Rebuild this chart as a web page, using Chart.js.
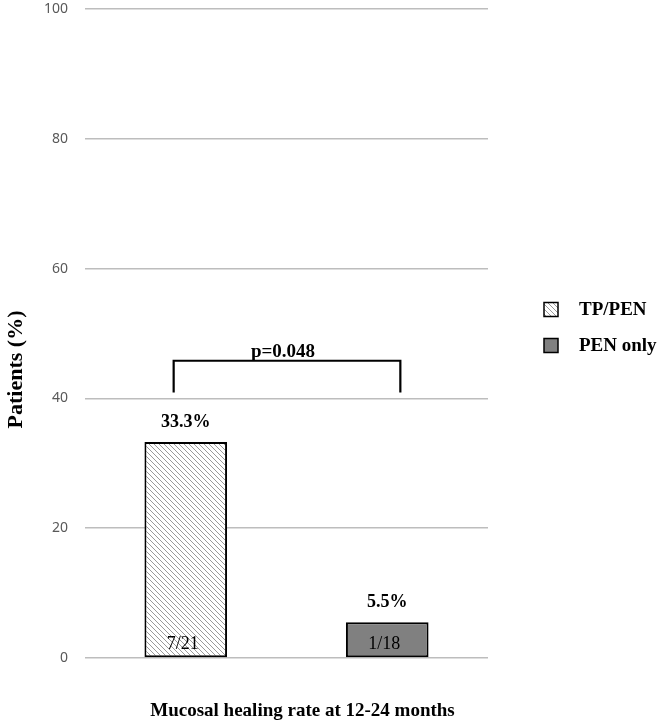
<!DOCTYPE html>
<html><head><meta charset="utf-8">
<script src="https://cdn.jsdelivr.net/npm/chart.js@4/dist/chart.umd.min.js"></script>
<style>html,body{margin:0;padding:0;background:#fff}#wrap{width:661px;height:725px;position:relative}</style>
</head><body><div id="wrap"><canvas id="c"></canvas></div>
<script>
const categories = ['TP/PEN', 'PEN only'];
const healingRate = [33.3, 5.5];
const valueLabels = ['33.3%', '5.5%'];
const countLabels = ['7/21', '1/18'];
const yTickValues = [0, 20, 40, 60, 80, 100];
const pValueLabel = 'p=0.048';
const yAxisTitle = 'Patients (%)';
const xAxisTitle = 'Mucosal healing rate at 12-24 months';

const SERIF = '"Liberation Serif","Times New Roman","DejaVu Serif",serif';

function makeHatch() {
  const s = 5;
  const c = document.createElement('canvas');
  c.width = s; c.height = s;
  const g = c.getContext('2d');
  g.fillStyle = '#ffffff'; g.fillRect(0, 0, s, s);
  g.strokeStyle = '#999999'; g.lineWidth = 1.0;
  g.beginPath();
  for (const k of [-s, 0, s]) { g.moveTo(k - 1, -1); g.lineTo(k + s + 1, s + 1); }
  g.stroke();
  return document.getElementById('c').getContext('2d').createPattern(c, 'repeat');
}
const hatchFill = makeHatch();
const fills = [hatchFill, '#808080'];

const datasets = categories.map((name, k) => ({
  label: name,
  data: categories.map((_, i) => (i === k ? healingRate[k] : null)),
  backgroundColor: fills[k],
  borderColor: '#000',
  borderWidth: 2,
  borderSkipped: false,
  grouped: false,
  barPercentage: 0.41,
  categoryPercentage: 1.0
}));

const annotate = {
  id: 'annotate',
  afterDatasetsDraw(chart) {
    const ctx = chart.ctx, ca = chart.chartArea;
    const xs = chart.scales.x, ys = chart.scales.y;
    ctx.save();
    categories.forEach((_, k) => {
      const bar = chart.getDatasetMeta(k).data[k];
      ctx.fillStyle = '#000';
      ctx.textAlign = 'center';
      ctx.textBaseline = 'alphabetic';
      ctx.font = 'bold 18px ' + SERIF;
      ctx.fillText(valueLabels[k], bar.x, bar.y - 15);
      ctx.font = '18px ' + SERIF;
      ctx.fillText(countLabels[k], bar.x - 3, bar.base - 8);
    });
    const xl = xs.getPixelForValue(-0.06), xr = xs.getPixelForValue(1.065);
    const yt = ys.getPixelForValue(45.8), yb = ys.getPixelForValue(40.9);
    ctx.strokeStyle = '#000'; ctx.lineWidth = 2.2;
    ctx.beginPath();
    ctx.moveTo(xl, yb); ctx.lineTo(xl, yt); ctx.lineTo(xr, yt); ctx.lineTo(xr, yb);
    ctx.stroke();
    ctx.font = 'bold 19px ' + SERIF;
    ctx.textAlign = 'center';
    ctx.fillText(pValueLabel, (xl + xr) / 2 - 4, yt - 4);
    const lx = ca.right + 56, cy = (ca.top + ca.bottom) / 2;
    categories.forEach((name, k) => {
      const iy = cy - 24 + k * 36;
      ctx.fillStyle = fills[k];
      ctx.fillRect(lx, iy - 7, 14, 14);
      ctx.lineWidth = 1.5; ctx.strokeStyle = '#000';
      ctx.strokeRect(lx, iy - 7, 14, 14);
      ctx.fillStyle = '#000';
      ctx.font = 'bold 19px ' + SERIF;
      ctx.textAlign = 'left'; ctx.textBaseline = 'middle';
      ctx.fillText(name, lx + 35, iy + 1);
    });
    ctx.textAlign = 'center'; ctx.textBaseline = 'middle';
    ctx.font = 'bold 19px ' + SERIF;
    ctx.fillText(xAxisTitle, (ca.left + ca.right) / 2 + 16, ca.bottom + 53);
    ctx.save();
    ctx.translate(16, (ca.top + ca.bottom) / 2 + 36);
    ctx.rotate(-Math.PI / 2);
    ctx.font = 'bold 22px ' + SERIF;
    ctx.fillText(yAxisTitle, 0, 0);
    ctx.restore();
    ctx.restore();
  }
};

new Chart(document.getElementById('c'), {
  type: 'bar',
  data: { labels: categories, datasets },
  options: {
    responsive: true,
    maintainAspectRatio: false,
    animation: false,
    layout: { padding: { left: 0, right: 173, top: 9, bottom: 67 } },
    plugins: { legend: { display: false }, tooltip: { enabled: false } },
    scales: {
      x: { display: false, offset: true },
      y: {
        min: 0, max: 100,
        afterBuildTicks(scale) { scale.ticks = yTickValues.map(v => ({ value: v })); },
        afterFit(scale) { scale.width = 85; scale.paddingTop = 0; scale.paddingBottom = 0; },
        border: { display: false },
        grid: { color: '#bdbdbd', lineWidth: 1.5, drawTicks: false },
        ticks: { padding: 17, color: '#595959', font: { family: '"Noto Sans","Open Sans",sans-serif', size: 14 } }
      }
    }
  },
  plugins: [annotate]
});
</script></body></html>
